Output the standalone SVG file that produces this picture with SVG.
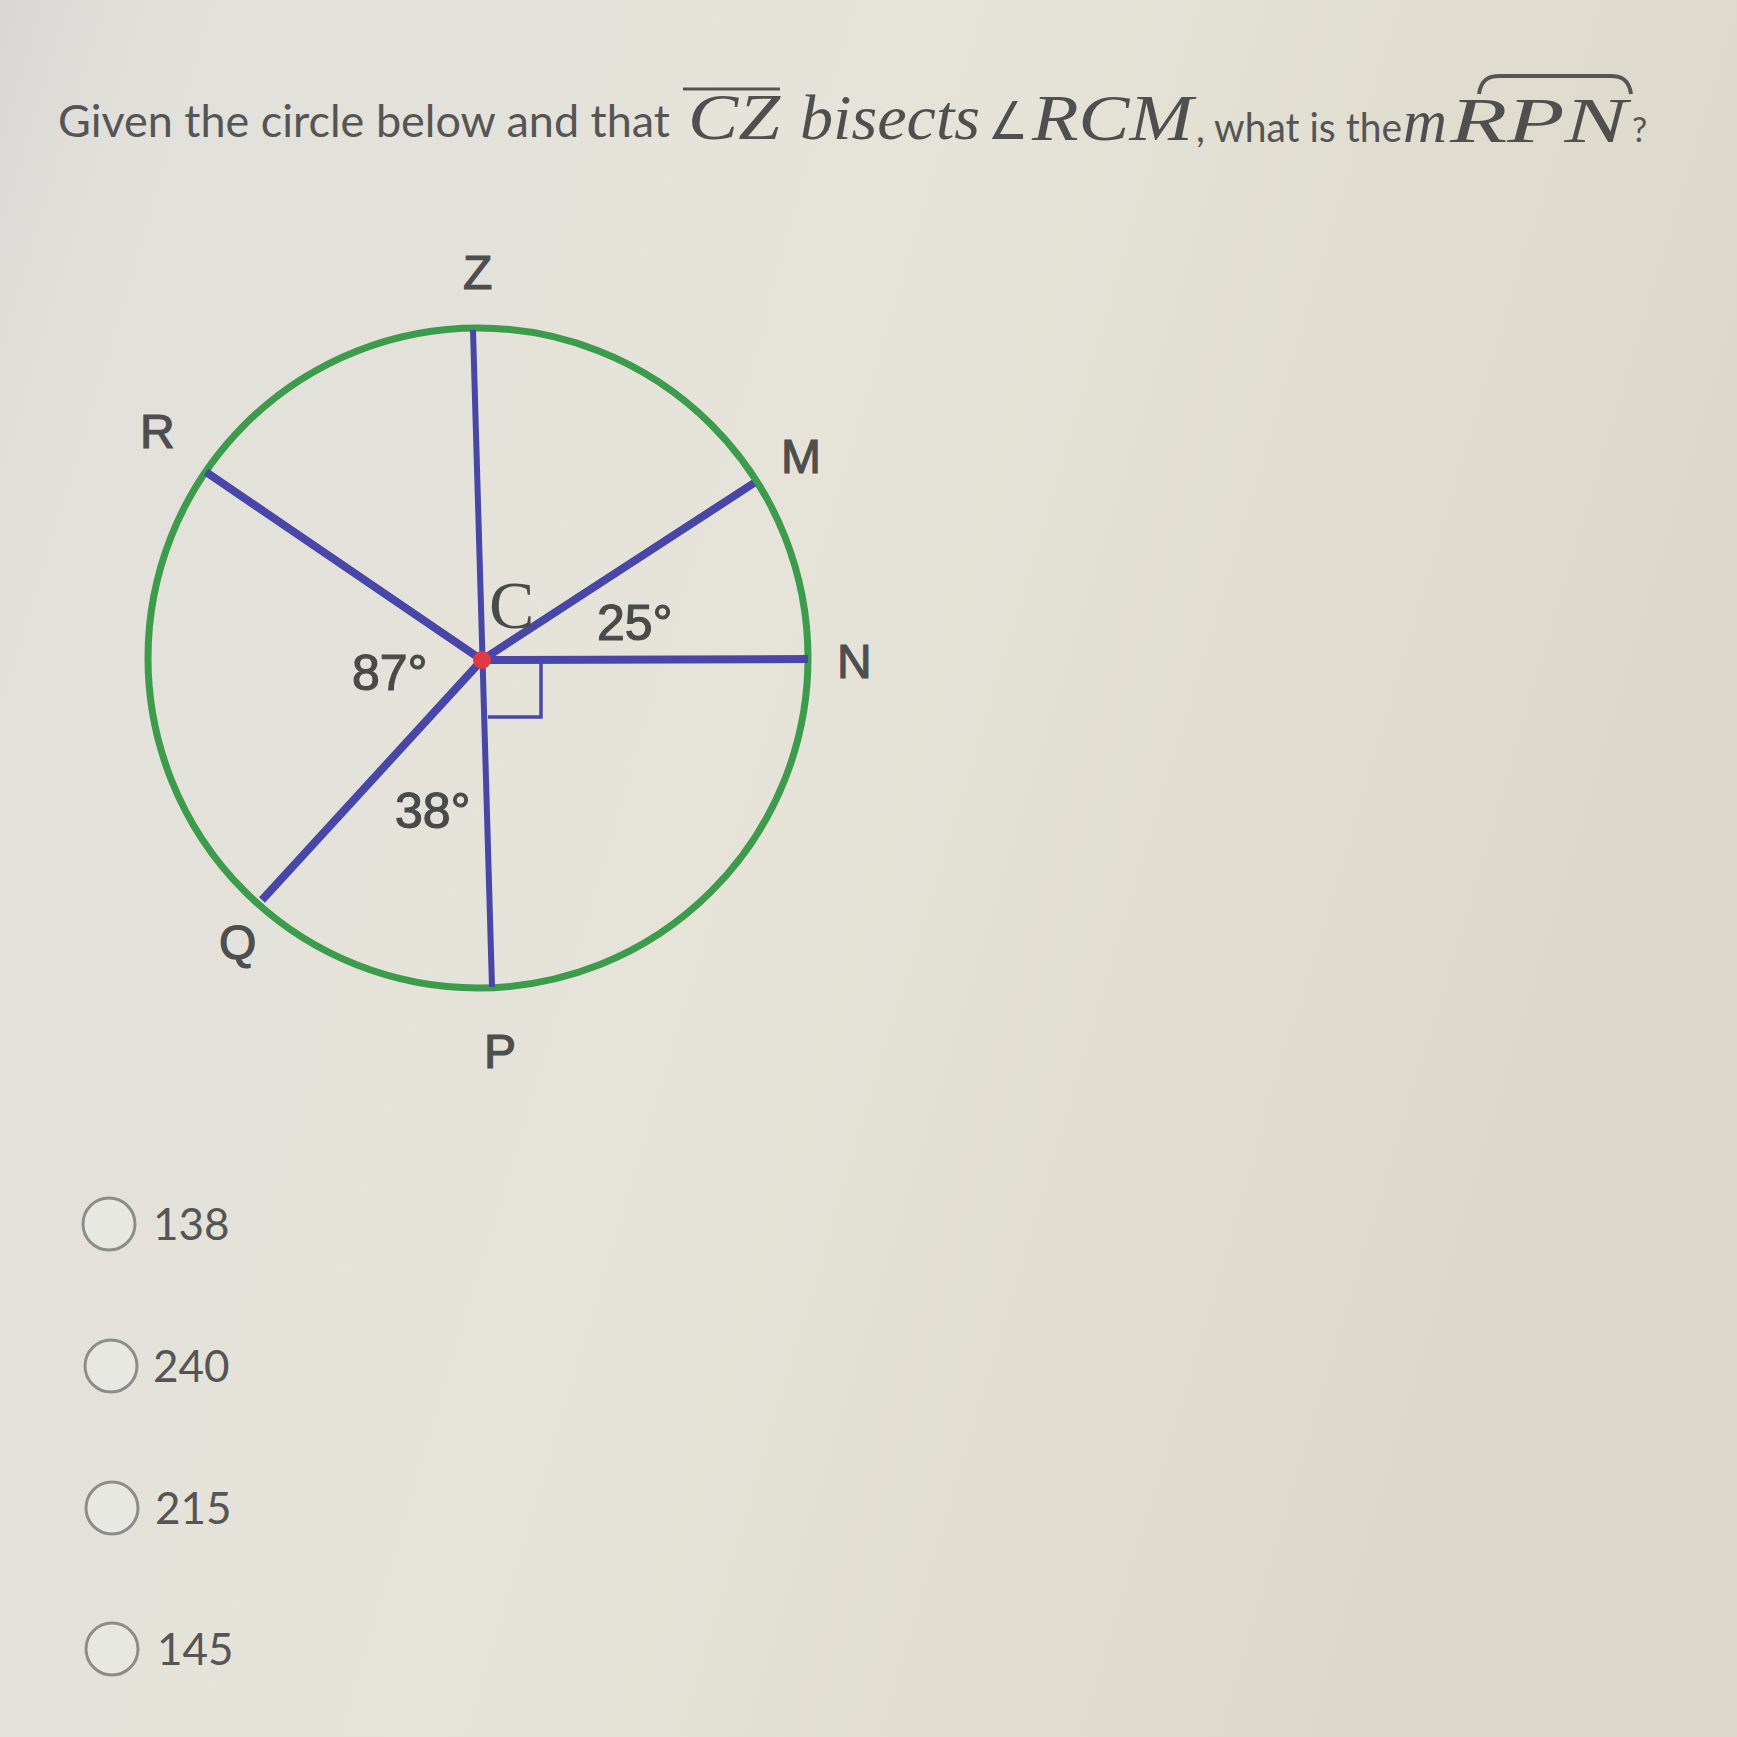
<svg xmlns="http://www.w3.org/2000/svg" width="1737" height="1737" viewBox="0 0 1737 1737">
  <defs>
    <linearGradient id="bg" x1="0" y1="0" x2="1" y2="0.3">
      <stop offset="0" stop-color="#d8d7d3"/>
      <stop offset="0.08" stop-color="#e1e0db"/>
      <stop offset="0.5" stop-color="#e6e4d9"/>
      <stop offset="1" stop-color="#dcd8c9"/>
    </linearGradient>
    <style>
      .sans { font-family: Lato, "Liberation Sans", sans-serif; fill: #555555; }
      .math { font-family: "Liberation Serif", "DejaVu Serif", serif; font-style: italic; fill: #4f4f4f; }
      .lbl { font-family: "Liberation Sans", Arial, sans-serif; font-size: 48px; fill: #4e4e4e; stroke: #4e4e4e; stroke-width: 1.2; }
      .deg { font-family: "Liberation Sans", Arial, sans-serif; font-size: 50px; fill: #4a4a4a; stroke: #4a4a4a; stroke-width: 1.2; }
      .ray { stroke: #4846a6; stroke-width: 8; stroke-linecap: butt; fill: none; }
      .thin { stroke: #4846a6; stroke-width: 6; fill: none; }
      .radio { fill: #e7e8e2; stroke: #8c8c8c; stroke-width: 3; }
      .ans { font-family: Lato, "Liberation Sans", sans-serif; font-size: 44px; fill: #555555; }
    </style>
  </defs>

  <rect x="0" y="0" width="1737" height="1737" fill="url(#bg)"/>

  <!-- Question -->
  <g id="question">
    <text class="sans" x="58" y="137" font-size="44" textLength="612" lengthAdjust="spacingAndGlyphs">Given the circle below and that</text>
    <line x1="683" y1="89" x2="780" y2="89" stroke="#555555" stroke-width="3"/>
    <text class="math" x="688" y="139" font-size="66" textLength="92" lengthAdjust="spacingAndGlyphs">CZ</text>
    <text class="math" x="800" y="139" font-size="64" textLength="180" lengthAdjust="spacingAndGlyphs">bisects</text>
    <text x="988" y="139" font-family="'DejaVu Sans', sans-serif" font-size="52" fill="#4f4f4f" textLength="40" lengthAdjust="spacingAndGlyphs">∠</text>
    <text class="math" x="1032" y="140" font-size="66" textLength="161" lengthAdjust="spacingAndGlyphs">RCM</text>
    <text class="sans" x="1196" y="142" font-size="40" textLength="206" lengthAdjust="spacingAndGlyphs">, what is the</text>
    <text class="math" x="1403" y="142" font-size="62" textLength="44" lengthAdjust="spacingAndGlyphs">m</text>
    <text class="math" x="1450" y="142" font-size="64" textLength="177" lengthAdjust="spacingAndGlyphs">RPN</text>
    <path d="M1479,94 C1481,80 1488,76 1500,76 L1610,76 C1622,76 1629,80 1631,94" fill="none" stroke="#555555" stroke-width="4"/>
    <text class="sans" x="1632" y="142" font-size="34">?</text>
  </g>

  <!-- Circle -->
  <g id="circle">
    <circle cx="478" cy="658" r="330" fill="none" stroke="#3d9b4c" stroke-width="7"/>
  </g>

  <!-- Connectors: radii / diameter -->
  <g id="connectors">
    <line class="thin" x1="473" y1="330" x2="492" y2="987"/>
    <line class="ray" x1="206" y1="472" x2="482" y2="660"/>
    <line class="ray" x1="754" y1="483" x2="482" y2="660"/>
    <line class="ray" x1="262" y1="900" x2="482" y2="660"/>
    <line class="ray" x1="482" y1="660" x2="808" y2="659"/>
    <path d="M541,663 L541,717 L488,717" fill="none" stroke="#4846a6" stroke-width="3.5"/>
  </g>

  <!-- Points and labels -->
  <g id="point-C">
    <circle cx="482" cy="660" r="9" fill="#e23a44"/>
    <text x="489" y="628" font-family="'Liberation Serif', serif" font-size="68" fill="#4a4a4a">C</text>
  </g>
  <g id="point-Z"><text class="lbl" x="463" y="289">Z</text></g>
  <g id="point-R"><text class="lbl" x="140" y="448">R</text></g>
  <g id="point-M"><text class="lbl" x="781" y="473">M</text></g>
  <g id="point-N"><text class="lbl" x="837" y="678">N</text></g>
  <g id="point-Q"><text class="lbl" x="219" y="959">Q</text></g>
  <g id="point-P"><text class="lbl" x="484" y="1068">P</text></g>

  <!-- Angle labels -->
  <g id="angle-25"><text class="deg" x="597" y="640">25°</text></g>
  <g id="angle-87"><text class="deg" x="352" y="690">87°</text></g>
  <g id="angle-38"><text class="deg" x="395" y="828">38°</text></g>

  <!-- Answer choices -->
  <g id="choice-138">
    <circle class="radio" cx="109" cy="1224" r="26"/>
    <text class="ans" x="153" y="1240">138</text>
  </g>
  <g id="choice-240">
    <circle class="radio" cx="111" cy="1366" r="26"/>
    <text class="ans" x="153" y="1382">240</text>
  </g>
  <g id="choice-215">
    <circle class="radio" cx="112" cy="1508" r="26"/>
    <text class="ans" x="155" y="1524">215</text>
  </g>
  <g id="choice-145">
    <circle class="radio" cx="112" cy="1649" r="26"/>
    <text class="ans" x="157" y="1665">145</text>
  </g>
</svg>
